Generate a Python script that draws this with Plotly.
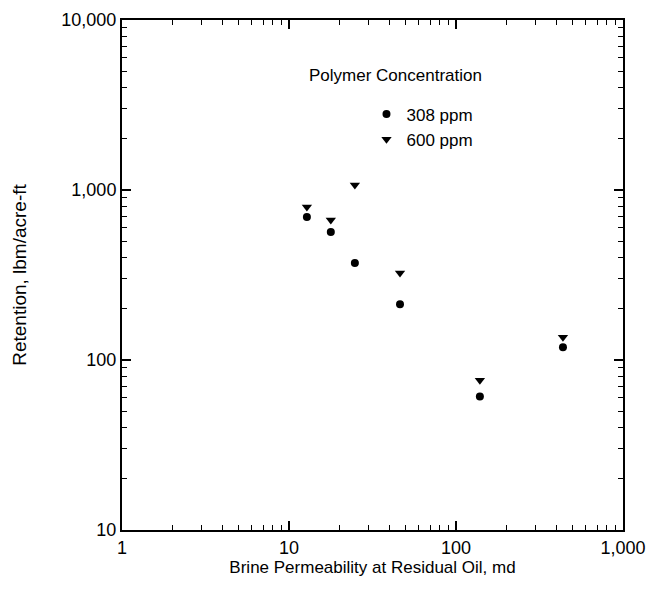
import plotly.graph_objects as go

perm_308 = [12.8, 17.8, 24.8, 46.2, 139, 437]
ret_308 = [693, 566, 372, 213, 61, 119]
perm_600 = [12.8, 17.8, 24.8, 46.2, 139, 437]
ret_600 = [794, 666, 1070, 325, 76, 136]

x_tickvals = [1, 10, 100, 1000]
x_ticktext = ["1", "10", "100", "1,000"]
y_tickvals = [10, 100, 1000, 10000]
y_ticktext = ["10", "100", "1,000", "10,000"]
x_minor = [m * d for d in [1, 10, 100] for m in range(2, 10)]
y_minor = [m * d for d in [10, 100, 1000] for m in range(2, 10)]

FONT = "Liberation Sans, Arial, sans-serif"

fig = go.Figure()
fig.add_trace(go.Scatter(x=perm_308, y=ret_308, mode="markers", name="308 ppm",
                         marker=dict(symbol="circle", size=8, color="black")))
fig.add_trace(go.Scatter(x=perm_600, y=ret_600, mode="markers", name="600 ppm",
                         marker=dict(symbol="triangle-down", size=9, color="black")))
# empty trace to activate the minor-tick overlay axes
fig.add_trace(go.Scatter(x=[], y=[], xaxis="x2", yaxis="y2", showlegend=False,
                         hoverinfo="skip"))

axis_common = dict(type="log", showgrid=False, zeroline=False, showline=True,
                   linecolor="black", linewidth=2, mirror="allticks", automargin=False,
                   ticks="inside", ticklen=9, tickwidth=1.6, tickcolor="black",
                   ticklabeloverflow="allow",
                   tickfont=dict(family=FONT, size=18, color="black"))

minor_common = dict(type="log", showgrid=False, zeroline=False, showline=False,
                    mirror="allticks", automargin=False, showticklabels=False,
                    ticks="inside", ticklen=5, tickwidth=1.2, tickcolor="black")

fig.update_layout(
    xaxis=dict(**axis_common, range=[0, 3], tickvals=x_tickvals, ticktext=x_ticktext,
               title=dict(text="Brine Permeability at Residual Oil, md",
                          font=dict(family=FONT, size=17, color="black"), standoff=4)),
    yaxis=dict(**axis_common, range=[1, 4], tickvals=y_tickvals, ticktext=y_ticktext,
               title=dict(text="Retention, lbm/acre-ft",
                          font=dict(family=FONT, size=19, color="black"), standoff=30)),
    xaxis2=dict(**minor_common, range=[0, 3], tickvals=x_minor, overlaying="x", anchor="y2"),
    yaxis2=dict(**minor_common, range=[1, 4], tickvals=y_minor, overlaying="y", anchor="x2"),
)

fig.add_annotation(text="Polymer Concentration", xref="paper", yref="paper",
                   x=0.37, y=0.892, xanchor="left", yanchor="middle", showarrow=False,
                   font=dict(family=FONT, size=17, color="black"))

fig.update_layout(width=648, height=594, plot_bgcolor="white", paper_bgcolor="white",
                  margin=dict(l=122, r=25, t=20, b=64),
                  showlegend=True,
                  legend=dict(x=0.488, y=0.85, xanchor="left", yanchor="top",
                              bgcolor="rgba(0,0,0,0)", tracegroupgap=0, itemwidth=30,
                              font=dict(family=FONT, size=17, color="black")))

fig.write_html("out.html", config={"displayModeBar": False},
               post_script="document.body.style.margin='0';document.body.style.overflow='hidden';")
